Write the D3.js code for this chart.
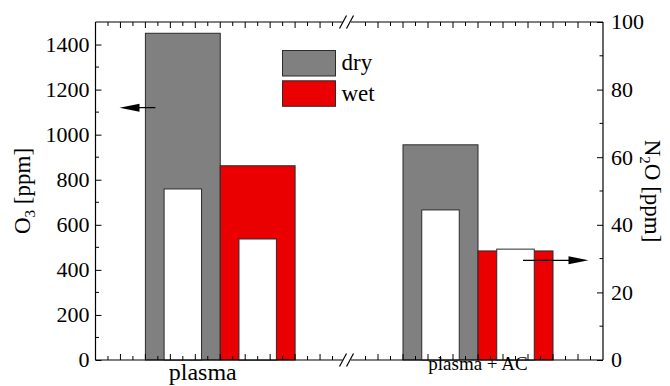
<!DOCTYPE html>
<html>
<head>
<meta charset="utf-8">
<script src="https://cdn.jsdelivr.net/npm/d3@7"></script>
</head>
<body style="margin:0">
<svg id="o3n2o" width="670" height="386"></svg>
<script>
// Gas composition after treatment: O3 (left axis) and N2O (right axis)
const groups = ["plasma", "plasma + AC"];
const o3Dry = [1450, 955];
const o3Wet = [862, 484];
const n2oDry = [50.6, 44.4];
const n2oWet = [35.8, 32.8];
const o3Ticks = [0, 200, 400, 600, 800, 1000, 1200, 1400];
const n2oTicks = [0, 20, 40, 60, 80, 100];
const legendLabels = ["dry", "wet"];

const colors = { dry: "#808080", wet: "#ea0000", edge: "#2b2b2b" };
const FONT = "Liberation Serif";

const m = { left: 95.5, right: 603, top: 22, bottom: 360 };
const svg = d3.select("#o3n2o");

// Helper: serif text element with its size fixed on the element itself
function label(parent, size) {
  return parent.append("text")
    .style("font-family", `'${FONT}'`, "important")
    .style("font-size", size + "px");
}

const yO3 = d3.scaleLinear().domain([0, 1500]).range([m.bottom, m.top]);
const yN2O = d3.scaleLinear().domain([0, 100]).range([m.bottom, m.top]);

// Broken x axis: two segments of 10 units each
const breakL = 345, breakR = 353;
const xSeg = [
  d3.scaleLinear().domain([0, 10]).range([m.left, breakL]),
  d3.scaleLinear().domain([0, 10]).range([breakR, m.right])
];

const g = svg.append("g");

// Bars: O3 as the wide coloured bar, N2O as the narrow white bar inside
groups.forEach((name, i) => {
  const x = xSeg[i];
  const bars = [
    { x0: 2, x1: 5, o3: o3Dry[i], n2o: n2oDry[i], fill: colors.dry },
    { x0: 5, x1: 8, o3: o3Wet[i], n2o: n2oWet[i], fill: colors.wet }
  ];
  bars.forEach(b => {
    g.append("rect")
      .attr("x", x(b.x0)).attr("y", yO3(b.o3))
      .attr("width", x(b.x1) - x(b.x0)).attr("height", yO3(0) - yO3(b.o3))
      .attr("fill", b.fill).attr("stroke", colors.edge).attr("stroke-width", 1);
  });
  bars.forEach(b => {
    const w = (b.x1 - b.x0) / 2;
    const c = (b.x0 + b.x1) / 2;
    g.append("rect")
      .attr("x", x(c - w / 2)).attr("y", yN2O(b.n2o))
      .attr("width", x(c + w / 2) - x(c - w / 2)).attr("height", yN2O(0) - yN2O(b.n2o))
      .attr("fill", "#fff").attr("stroke", colors.edge).attr("stroke-width", 1);
  });
});

// Frame with axis breaks on top and bottom
const frame = svg.append("g").attr("stroke", "#000").attr("stroke-width", 1.2).attr("fill", "none");
const gapL = 342.5, gapR = 351;
[m.top, m.bottom].forEach(y => {
  frame.append("line").attr("x1", m.left).attr("x2", gapL).attr("y1", y).attr("y2", y);
  frame.append("line").attr("x1", gapR).attr("x2", m.right).attr("y1", y).attr("y2", y);
  [0, 7].forEach(dx => {
    frame.append("line")
      .attr("x1", 339.5 + dx).attr("y1", y + 6.5)
      .attr("x2", 346.5 + dx).attr("y2", y - 6.5);
  });
});
frame.append("line").attr("x1", m.left).attr("x2", m.left).attr("y1", m.top).attr("y2", m.bottom);
frame.append("line").attr("x1", m.right).attr("x2", m.right).attr("y1", m.top).attr("y2", m.bottom);

// Left axis (O3): tick marks from the axis generator, labels as serif text
const minorO3 = d3.range(100, 1500, 200);
const la = svg.append("g").attr("transform", `translate(${m.left},0)`)
  .call(d3.axisRight(yO3).tickValues(o3Ticks).tickSize(6).tickFormat(""));
la.select(".domain").remove();
la.selectAll("line").attr("stroke", "#000");
o3Ticks.forEach(v => {
  label(svg, 22).attr("x", m.left - 6).attr("y", yO3(v)).attr("dy", "0.34em")
    .attr("text-anchor", "end").text(d3.format("d")(v));
});
svg.append("g").selectAll("line").data(minorO3).join("line")
  .attr("x1", m.left).attr("x2", m.left + 3.5)
  .attr("y1", d => yO3(d)).attr("y2", d => yO3(d)).attr("stroke", "#000");

// Right axis (N2O)
const minorN2O = d3.range(10, 100, 20);
const ra = svg.append("g").attr("transform", `translate(${m.right},0)`)
  .call(d3.axisLeft(yN2O).tickValues(n2oTicks).tickSize(6).tickFormat(""));
ra.select(".domain").remove();
ra.selectAll("line").attr("stroke", "#000");
n2oTicks.forEach(v => {
  label(svg, 22).attr("x", m.right + 8).attr("y", yN2O(v)).attr("dy", "0.34em")
    .attr("text-anchor", "start").text(d3.format("d")(v));
});
svg.append("g").selectAll("line").data(minorN2O).join("line")
  .attr("x1", m.right).attr("x2", m.right - 3.5)
  .attr("y1", d => yN2O(d)).attr("y2", d => yN2O(d)).attr("stroke", "#000");

// Top and bottom x ticks (inward), half-unit minors
xSeg.forEach((x) => {
  const ticks = d3.range(0, 10.01, 0.5).filter(t => {
    const px = x(t);
    return px > m.left + 2 && px < m.right - 2 && (px < 337 || px > 356);
  });
  ticks.forEach(t => {
    const len = Number.isInteger(t) ? 6 : 4;
    svg.append("line").attr("x1", x(t)).attr("x2", x(t))
      .attr("y1", m.bottom).attr("y2", m.bottom - len).attr("stroke", "#000");
    svg.append("line").attr("x1", x(t)).attr("x2", x(t))
      .attr("y1", m.top).attr("y2", m.top + len).attr("stroke", "#000");
  });
});

// Group labels
label(svg, 24).attr("x", xSeg[0](4.3)).attr("y", 380)
  .attr("text-anchor", "middle").text(groups[0]);
label(svg, 19).attr("x", xSeg[1](5)).attr("y", 369.5)
  .attr("text-anchor", "middle").text(groups[1]);

// Axis titles
const lt = label(svg, 23).attr("transform", `translate(30,${(m.top + m.bottom) / 2}) rotate(-90)`)
  .attr("text-anchor", "middle");
lt.append("tspan").text("O");
lt.append("tspan").style("font-size", "15px").attr("dy", 5).text("3");
lt.append("tspan").attr("dy", -5).text(" [ppm]");

const rt = label(svg, 23).attr("transform", `translate(645,${(m.top + m.bottom) / 2}) rotate(90)`)
  .attr("text-anchor", "middle");
rt.append("tspan").text("N");
rt.append("tspan").style("font-size", "15px").attr("dy", 5).text("2");
rt.append("tspan").attr("dy", -5).text("O [ppm]");

// Legend
const lg = svg.append("g");
[colors.dry, colors.wet].forEach((c, i) => {
  lg.append("rect").attr("x", 282.5).attr("y", 50.5 + i * 30.3)
    .attr("width", 53).attr("height", 25.5)
    .attr("fill", c).attr("stroke", colors.edge).attr("stroke-width", 1);
  label(lg, 23).attr("x", 341.5).attr("y", 70 + i * 31).text(legendLabels[i]);
});

// Arrows pointing to the relevant axis
function arrow(x1, x2, y) {
  const dir = Math.sign(x2 - x1);
  svg.append("line").attr("x1", x1).attr("x2", x2 - dir * 10).attr("y1", y).attr("y2", y)
    .attr("stroke", "#000").attr("stroke-width", 1.2);
  svg.append("path")
    .attr("d", `M${x2},${y} L${x2 - dir * 20},${y - 4} L${x2 - dir * 20},${y + 4} Z`)
    .attr("fill", "#000");
}
arrow(xSeg[0](2.4), m.left + 24, yO3(1120));
arrow(xSeg[1](6.8), m.right - 14.5, yN2O(29.5));
</script>
</body>
</html>
